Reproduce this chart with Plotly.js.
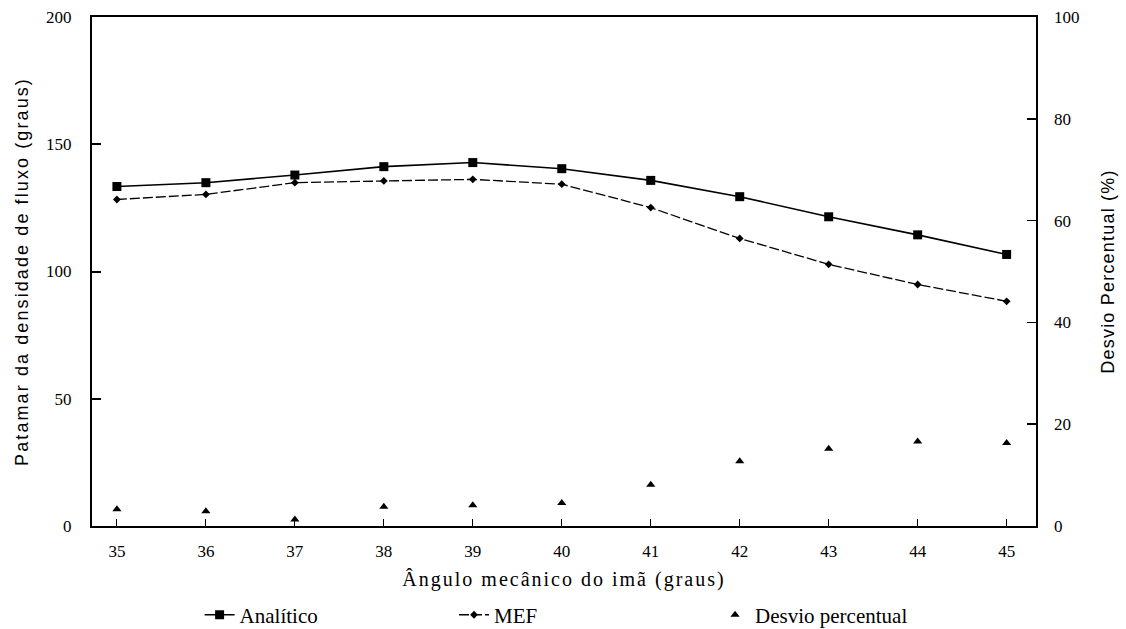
<!DOCTYPE html>
<html>
<head>
<meta charset="utf-8">
<script src="https://cdn.plot.ly/plotly-3.0.1.min.js"></script>
<style>
html,body{margin:0;padding:0;background:#fff;}
#chart{width:1126px;height:629px;}
#chart text.xtitle{letter-spacing:2px;}
#chart text.ytitle{letter-spacing:2.1px;}
#chart text.y2title{letter-spacing:1.2px;}
</style>
</head>
<body>
<div id="chart"></div>
<script>
const angles = [35, 36, 37, 38, 39, 40, 41, 42, 43, 44, 45];
const analitico = [133.4, 134.9, 137.9, 141.2, 142.8, 140.4, 135.8, 129.4, 121.5, 114.4, 106.7];
const mef = [128.3, 130.3, 134.9, 135.6, 136.2, 134.3, 125.1, 113.0, 102.8, 94.9, 88.3];
const desvio = [3.3, 2.9, 1.3, 3.8, 4.1, 4.5, 8.1, 12.7, 15.2, 16.6, 16.3];
const leftTicks = [0, 50, 100, 150, 200];
const rightTicks = [0, 20, 40, 60, 80, 100];

const serif = 'Liberation Serif, Times New Roman, serif';
const sans = 'Liberation Sans, Arial, sans-serif';

const traces = [
  {x: angles, y: analitico, name: 'Analítico', type: 'scatter', mode: 'lines+markers',
   line: {color: '#000', width: 1.6}, marker: {symbol: 'square', size: 9, color: '#000'},
   legend: 'legend'},
  {x: angles, y: mef, name: 'MEF', type: 'scatter', mode: 'lines+markers',
   line: {color: '#000', width: 1.3, dash: '10px,3px'}, marker: {symbol: 'diamond', size: 6, color: '#000'},
   legend: 'legend2'},
  {x: angles, y: desvio, name: 'Desvio percentual', type: 'scatter', mode: 'markers', yaxis: 'y2',
   marker: {symbol: 'triangle-up', size: 8, color: '#000'}, legend: 'legend3'}
];

const legendBase = {orientation: 'h', yanchor: 'middle', xanchor: 'left', y: -0.175,
  font: {family: serif, size: 21, color: '#000'}, bgcolor: 'rgba(0,0,0,0)', itemwidth: 30};

const layout = {
  width: 1126, height: 629,
  margin: {l: 92, r: 90, t: 17, b: 103, autoexpand: false},
  paper_bgcolor: '#fff', plot_bgcolor: '#fff',
  showlegend: true,
  xaxis: {range: [34.72, 45.33], tickvals: angles, ticktext: angles.map(String), automargin: false,
    ticks: 'inside', ticklen: 7, tickcolor: '#000', tickwidth: 1, ticklabelstandoff: 9,
    showline: true, linecolor: '#000', linewidth: 2, mirror: true, showgrid: false, zeroline: false,
    tickfont: {family: serif, size: 17, color: '#000'},
    title: {text: 'Ângulo mecânico do imã (graus)', font: {family: serif, size: 20, color: '#000'}, standoff: 12}},
  yaxis: {range: [0, 200], tickvals: leftTicks, ticks: 'inside', ticklen: 9, tickcolor: '#000', tickwidth: 2,
    ticklabelstandoff: 15, automargin: false,
    showline: true, linecolor: '#000', linewidth: 2, showgrid: false, zeroline: false,
    tickfont: {family: serif, size: 17, color: '#000'},
    title: {text: 'Patamar da densidade de fluxo (graus)', font: {family: sans, size: 18, color: '#000'}, standoff: 13}},
  yaxis2: {range: [0, 100], tickvals: rightTicks, overlaying: 'y', side: 'right', anchor: 'x', automargin: false,
    ticks: 'inside', ticklen: 9, tickcolor: '#000', tickwidth: 1.5, ticklabelstandoff: 13,
    showline: true, linecolor: '#000', linewidth: 1.5, showgrid: false, zeroline: false,
    tickfont: {family: serif, size: 17, color: '#000'},
    title: {text: 'Desvio Percentual (%)', font: {family: sans, size: 18, color: '#000'}, standoff: 23}},
  legend: Object.assign({}, legendBase, {x: 0.114}),
  legend2: Object.assign({}, legendBase, {x: 0.3835}),
  legend3: Object.assign({}, legendBase, {x: 0.66})
};

Plotly.newPlot('chart', traces, layout, {displayModeBar: false, staticPlot: true});
</script>
</body>
</html>
